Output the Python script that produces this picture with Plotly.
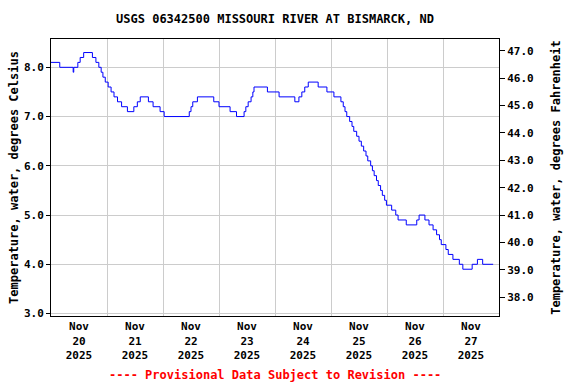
import plotly.graph_objects as go

# ---- data ----
times = [
    "2025-11-20 00:00", "2025-11-20 03:45", "2025-11-20 09:30", "2025-11-20 09:45",
    "2025-11-20 11:30", "2025-11-20 12:30", "2025-11-20 14:00", "2025-11-20 17:45",
    "2025-11-20 19:15", "2025-11-20 20:30", "2025-11-20 21:30", "2025-11-20 22:15",
    "2025-11-20 23:15", "2025-11-21 00:30", "2025-11-21 01:45", "2025-11-21 03:00",
    "2025-11-21 04:30", "2025-11-21 06:15", "2025-11-21 08:45", "2025-11-21 11:30",
    "2025-11-21 13:00", "2025-11-21 14:15", "2025-11-21 17:45", "2025-11-21 19:45",
    "2025-11-21 22:45", "2025-11-22 00:30", "2025-11-22 11:15", "2025-11-22 12:00",
    "2025-11-22 12:45", "2025-11-22 14:45", "2025-11-22 21:45", "2025-11-23 00:00",
    "2025-11-23 04:45", "2025-11-23 07:30", "2025-11-23 10:45", "2025-11-23 11:30",
    "2025-11-23 12:30", "2025-11-23 13:45", "2025-11-23 14:30", "2025-11-23 15:00",
    "2025-11-23 20:45", "2025-11-24 01:45", "2025-11-24 08:30", "2025-11-24 10:15",
    "2025-11-24 11:30", "2025-11-24 12:45", "2025-11-24 14:15", "2025-11-24 18:30",
    "2025-11-24 22:15", "2025-11-25 01:15", "2025-11-25 04:15", "2025-11-25 05:15",
    "2025-11-25 06:00", "2025-11-25 06:45", "2025-11-25 08:00", "2025-11-25 09:00",
    "2025-11-25 09:45", "2025-11-25 11:00", "2025-11-25 12:00", "2025-11-25 13:00",
    "2025-11-25 14:00", "2025-11-25 15:00", "2025-11-25 15:45", "2025-11-25 17:00",
    "2025-11-25 17:45", "2025-11-25 18:30", "2025-11-25 19:30", "2025-11-25 20:15",
    "2025-11-25 21:15", "2025-11-25 22:00", "2025-11-25 23:00", "2025-11-25 23:45",
    "2025-11-26 02:00", "2025-11-26 03:45", "2025-11-26 04:45", "2025-11-26 08:15",
    "2025-11-26 12:45", "2025-11-26 13:45", "2025-11-26 16:15", "2025-11-26 18:00",
    "2025-11-26 19:45", "2025-11-26 21:15", "2025-11-26 22:30", "2025-11-26 23:15",
    "2025-11-27 01:15", "2025-11-27 02:15", "2025-11-27 04:15", "2025-11-27 07:00",
    "2025-11-27 08:30", "2025-11-27 12:30", "2025-11-27 14:45", "2025-11-27 17:00",
    "2025-11-27 21:30",
]
temp_c = [
    8.1, 8.0, 7.9, 8.0,
    8.1, 8.2, 8.3, 8.2,
    8.1, 8.0, 7.9, 7.8,
    7.7, 7.6, 7.5, 7.4,
    7.3, 7.2, 7.1, 7.2,
    7.3, 7.4, 7.3, 7.2,
    7.1, 7.0, 7.1, 7.2,
    7.3, 7.4, 7.3, 7.2,
    7.1, 7.0, 7.1, 7.2,
    7.3, 7.4, 7.5, 7.6,
    7.5, 7.4, 7.3, 7.4,
    7.5, 7.6, 7.7, 7.6,
    7.5, 7.4, 7.3, 7.2,
    7.1, 7.0, 6.9, 6.8,
    6.7, 6.6, 6.5, 6.4,
    6.3, 6.2, 6.1, 6.0,
    5.9, 5.8, 5.7, 5.6,
    5.5, 5.4, 5.3, 5.2,
    5.1, 5.0, 4.9, 4.8,
    4.9, 5.0, 4.9, 4.8,
    4.7, 4.6, 4.5, 4.4,
    4.3, 4.2, 4.1, 4.0,
    3.9, 4.0, 4.1, 4.0,
    4.0,
]

title_text = "USGS 06342500 MISSOURI RIVER AT BISMARCK, ND"
left_title = "Temperature, water, degrees Celsius"
right_title = "Temperature, water, degrees Fahrenheit"
footer_text = "---- Provisional Data Subject to Revision ----"

c_range = [2.95, 8.575]
f_range = [c * 1.8 + 32 for c in c_range]
x_range = ["2025-11-20 00:00", "2025-11-28 00:00"]

FONT = "DejaVu Sans Mono"

fig = go.Figure()
fig.add_trace(go.Scatter(
    x=times, y=temp_c, mode="lines", line=dict(color="#0000ff", width=1, shape="hv"),
    showlegend=False, hoverinfo="skip",
))
# invisible trace on the Fahrenheit axis so it is drawn
fig.add_trace(go.Scatter(
    x=[times[0]], y=[temp_c[0] * 1.8 + 32], yaxis="y2", mode="markers",
    marker=dict(opacity=0), showlegend=False, hoverinfo="skip",
))

fig.update_layout(
    width=576, height=384,
    margin=dict(l=51, r=77, t=39, b=68, autoexpand=False),
    paper_bgcolor="white", plot_bgcolor="white",
    font=dict(family=FONT, size=12, color="black", weight="bold"),
    title=dict(text=title_text, x=0.5, xref="paper", xanchor="center",
               y=1 - 19 / 384, yref="container", yanchor="middle",
               font=dict(family=FONT, size=12, color="black", weight="bold")),
    xaxis=dict(
        type="date", range=x_range, dtick=86400000, tick0="2025-11-20",
        ticklabelmode="period", tickformat="%b<br>%d<br>%Y",
        showgrid=True, gridcolor="#cccccc", gridwidth=1,
        showline=True, linecolor="black", linewidth=1, mirror=True,
        ticks="", tickfont=dict(family=FONT, size=11, weight="bold"),
        zeroline=False, automargin=False,
    ),
    yaxis=dict(
        range=c_range, dtick=1, tick0=3, tickformat=".1f",
        showgrid=True, gridcolor="#cccccc", gridwidth=1,
        showline=True, linecolor="black", linewidth=1, mirror=False,
        ticks="outside", ticklen=4, tickcolor="black",
        tickfont=dict(family=FONT, size=11, weight="bold"),
        title=dict(text=left_title, standoff=2,
                   font=dict(family=FONT, size=12, weight="bold")),
        zeroline=False, automargin=False,
    ),
    yaxis2=dict(
        range=f_range, dtick=1, tick0=32, tickformat=".1f",
        overlaying="y", side="right", showgrid=False,
        showline=True, linecolor="black", linewidth=1,
        ticks="outside", ticklen=5, tickcolor="black",
        tickfont=dict(family=FONT, size=11, weight="bold"),
        title=dict(text=right_title, standoff=18,
                   font=dict(family=FONT, size=12, weight="bold")),
        zeroline=False, automargin=False,
    ),
    annotations=[dict(
        text=footer_text, x=0.5, xref="paper", xanchor="center",
        y=(316 - 375) / 277, yref="paper", yanchor="middle", showarrow=False,
        font=dict(family=FONT, size=12, color="red", weight="bold"),
    )],
)

fig.write_html("out.html", config={"displayModeBar": False},
               post_script="document.body.style.margin='0px';")
